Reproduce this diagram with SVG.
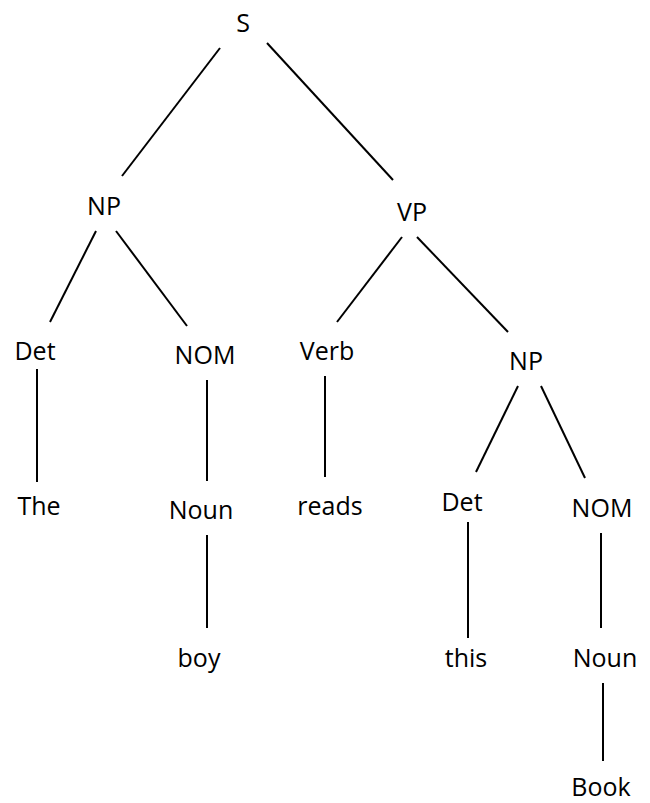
<svg xmlns="http://www.w3.org/2000/svg" width="650" height="803" viewBox="0 0 650 803">
<style>
text{font-family:"Open Sans","Liberation Sans",sans-serif;font-size:25px;fill:#000;text-anchor:middle}
.e line{stroke:#000;stroke-width:2;stroke-linecap:butt}
</style>
<rect width="650" height="803" fill="#fff"/>
<g class="e" id="edges">
<line x1="220" y1="48" x2="122" y2="176"/>
<line x1="267" y1="43" x2="393" y2="180"/>
<line x1="96" y1="231" x2="50" y2="322"/>
<line x1="116" y1="231" x2="187" y2="326"/>
<line x1="402" y1="237" x2="337" y2="322"/>
<line x1="417" y1="237" x2="508" y2="332"/>
<line x1="37" y1="369" x2="37" y2="482"/>
<line x1="207" y1="380" x2="207" y2="481"/>
<line x1="325" y1="376" x2="325" y2="477"/>
<line x1="207" y1="535" x2="207" y2="628"/>
<line x1="518" y1="386" x2="476" y2="472"/>
<line x1="541" y1="386" x2="585" y2="478"/>
<line x1="468" y1="522" x2="468" y2="638"/>
<line x1="601" y1="533" x2="601" y2="628"/>
<line x1="603" y1="683" x2="603" y2="761"/>
</g>
<g id="S"><text x="243" y="32">S</text></g>
<g id="NP1"><text x="104" y="215">NP</text></g>
<g id="VP"><text x="412" y="221">VP</text></g>
<g id="Det1"><text x="35" y="360">Det</text></g>
<g id="NOM1"><text x="205" y="364">NOM</text></g>
<g id="Verb"><text x="327" y="360">Verb</text></g>
<g id="NP2"><text x="526" y="370">NP</text></g>
<g id="The"><text x="39" y="515">The</text></g>
<g id="Noun1"><text x="201" y="519">Noun</text></g>
<g id="reads"><text x="330" y="515">reads</text></g>
<g id="Det2"><text x="462" y="511">Det</text></g>
<g id="NOM2"><text x="602" y="517">NOM</text></g>
<g id="boy"><text x="199" y="667">boy</text></g>
<g id="this"><text x="466" y="667">this</text></g>
<g id="Noun2"><text x="605" y="667">Noun</text></g>
<g id="Book"><text x="601" y="796">Book</text></g>
</svg>
